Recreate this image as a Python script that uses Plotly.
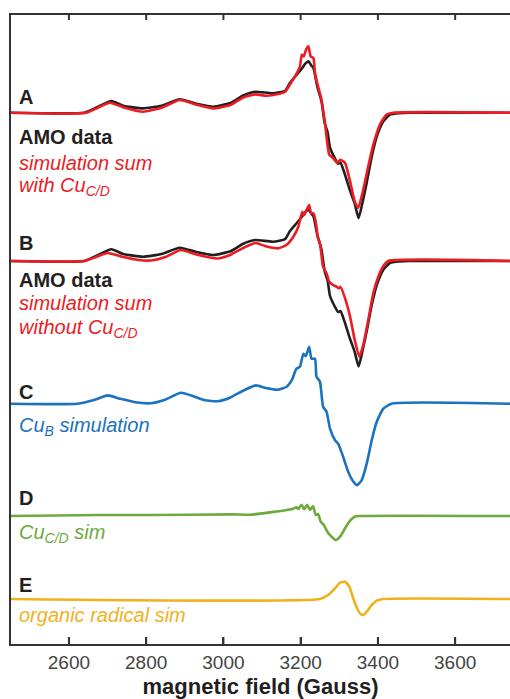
import plotly.graph_objects as go

# ---------------- data (field in Gauss, signal in arbitrary units) ----------------
amo_field = [2450, 2640, 2670, 2710, 2740, 2792, 2840, 2887, 2930, 2974, 3020, 3050, 3082,
             3128, 3160, 3172, 3190, 3204, 3212, 3220, 3228, 3233, 3243, 3254, 3262, 3270,
             3276, 3289, 3297, 3303, 3314, 3327, 3340, 3350, 3360, 3371, 3384, 3397, 3414,
             3431, 3457, 3480, 3742]
amo_signal = [0, 0, 5, 11.7, 7, 4.3, 7, 13.3, 9, 6, 10, 17, 21,
              19.3, 22, 29.7, 38, 44.7, 49, 51.3, 47, 44.7, 26.3, 11.3, -10, -20,
              -35, -46, -51, -50, -61, -77, -91, -105.5, -90, -70, -44, -24, -8.7,
              -2, -0.5, 0, 0]

simA_field = [2450, 2645, 2675, 2706, 2740, 2792, 2840, 2887, 2930, 2974, 3020, 3050, 3082,
              3110, 3129, 3160, 3172, 3188, 3198, 3203, 3208, 3214, 3220, 3226, 3233, 3237,
              3245, 3254, 3263, 3274, 3284, 3295, 3302, 3315, 3328, 3340, 3349, 3360, 3375,
              3388, 3405, 3422, 3440, 3742]
simA_signal = [0, 0, 5, 10, 5.5, 1, 5, 12.7, 8, 4.3, 8, 15, 18.3,
               17, 17.7, 21, 28, 38, 46, 58, 56.3, 63, 66.3, 56.3, 54.7, 39.7,
               26.3, 13, -10.3, -42, -45.3, -50.3, -47, -50.3, -68.7, -88.7, -95.3, -80.3, -53.7,
               -32, -12, -2, 0, 0]

simB_field = [2450, 2640, 2670, 2700, 2735, 2780, 2812, 2850, 2890, 2930, 2985, 3017, 3056,
              3084, 3107, 3120, 3142, 3163, 3181, 3194, 3204, 3209, 3215, 3222, 3227, 3233,
              3239, 3245, 3250, 3258, 3267, 3274, 3284, 3293, 3299, 3303, 3315, 3328, 3340,
              3352, 3362, 3375, 3388, 3401, 3414, 3427, 3742]
simB_signal = [0, 0, 4, 8, 4.5, 1, 0.5, 4, 11, 6.5, 2.5, 6, 14,
               18, 15, 13.7, 12.7, 16, 24.3, 34.3, 49.3, 46, 51, 56, 47.7, 47.7,
               39.3, 22.7, 17.7, -5.7, -12.3, -20.7, -24, -25.7, -27.3, -25.7, -37.3, -55.7, -79,
               -95.7, -84, -59, -32.3, -15.7, -5, 0, 0]

cuB_field = [2450, 2622, 2667, 2700, 2732, 2771, 2812, 2849, 2890, 2926, 2952, 2985, 3017,
             3056, 3084, 3107, 3140, 3164, 3177, 3189, 3198, 3207, 3213, 3222, 3228, 3237,
             3241, 3250, 3258, 3267, 3276, 3289, 3297, 3310, 3323, 3334, 3346, 3358, 3371,
             3384, 3397, 3414, 3435, 3742]
cuB_signal = [0, 0, 4, 8.3, 5, 1.5, 0.5, 4, 11, 7, 3.5, 2.5, 6,
              14, 18.3, 16, 14, 17, 23.5, 35, 37, 50, 47.5, 57, 45, 45,
              27, 22, -3, -8, -25, -36.5, -40, -53, -68, -76.5, -81.5, -76.5, -60,
              -36.5, -18, -5, 0, 0]

cuCD_field = [2450, 2680, 2810, 3025, 3069, 3120, 3172, 3181, 3189, 3194, 3202, 3209, 3217,
              3224, 3232, 3239, 3245, 3252, 3260, 3269, 3280, 3291, 3302, 3315, 3328, 3340,
              3353, 3742]
cuCD_signal = [0, 1, 1, 1.6, 1.3, 3.6, 6.5, 7.3, 8.7, 7, 11.3, 6.7, 11.3,
               6, 10, 1, 2, -5.7, -9, -15.7, -20.7, -24, -20.7, -12.3, -4.7, -0.7,
               0, 0]

rad_field = [2450, 3250, 3271, 3289, 3302, 3315, 3326, 3336, 3346, 3355, 3362, 3371, 3384,
             3397, 3414, 3742]
rad_signal = [0, 0, 4, 10.7, 16.3, 17.3, 12.3, 0.7, -9.3, -15, -16, -12.7, -6,
              -1.7, 0, 0]

tick_vals = [2600, 2800, 3000, 3200, 3400, 3600]
tick_text = ["2600", "2800", "3000", "3200", "3400", "3600"]

# vertical offsets of the stacked spectra
off_A, off_B, off_C, off_D, off_E = 531.3, 383, 240.3, 128, 45

BLACK = "#231F20"
RED = "#ED1C24"
BLUE = "#1B72BE"
GREEN = "#6DAA3C"
YELLOW = "#EFB21E"
AXIS = "#333333"
FONT = "Liberation Sans, Arial, sans-serif"
X_RANGE = [2450, 3742]
Y_RANGE = [0, 631]
TICK_LEN = 7

fig = go.Figure()

def add(xs, ys, off, color, width=2.6):
    fig.add_trace(go.Scatter(
        x=xs, y=[v + off for v in ys], mode="lines",
        line=dict(color=color, width=width, shape="spline", smoothing=0.5),
        showlegend=False, hoverinfo="skip"))

add(amo_field, amo_signal, off_A, BLACK)
add(simA_field, simA_signal, off_A, RED)
add(amo_field, amo_signal, off_B, BLACK)
add(simB_field, simB_signal, off_B, RED)
add(cuB_field, cuB_signal, off_C, BLUE)
add(cuCD_field, cuCD_signal, off_D, GREEN)
add(rad_field, rad_signal, off_E, YELLOW)

# frame: top edge and inside tick marks on bottom and top edges (built from tick_vals)
tx, ty = [], []
for v in tick_vals:
    tx += [v, v, None, v, v, None]
    ty += [Y_RANGE[0], Y_RANGE[0] + TICK_LEN, None, Y_RANGE[1], Y_RANGE[1] - TICK_LEN, None]
fig.add_trace(go.Scatter(x=tx, y=ty, mode="lines", line=dict(color=AXIS, width=2),
                         showlegend=False, hoverinfo="skip"))
fig.add_trace(go.Scatter(x=X_RANGE, y=[Y_RANGE[1] - 0.5, Y_RANGE[1] - 0.5], mode="lines",
                         line=dict(color=AXIS, width=3), showlegend=False, hoverinfo="skip"))

labels = [
    ("<b>A</b>", 547.3, BLACK),
    ("<b>AMO data</b>", 507.3, BLACK),
    ("<i>simulation sum</i>", 480.7, RED),
    ("<i>with Cu<sub>C/D</sub></i>", 457.3, RED),
    ("<b>B</b>", 401, BLACK),
    ("<b>AMO data</b>", 364, BLACK),
    ("<i>simulation sum</i>", 340.7, RED),
    ("<i>without Cu<sub>C/D</sub></i>", 315.7, RED),
    ("<b>C</b>", 252.5, BLACK),
    ("<i>Cu<sub>B</sub> simulation</i>", 218, BLUE),
    ("<b>D</b>", 146, BLACK),
    ("<i>Cu<sub>C/D</sub> sim</i>", 110.7, GREEN),
    ("<b>E</b>", 59, BLACK),
    ("<i>organic radical sim</i>", 29, YELLOW),
]
for text, y, col in labels:
    fig.add_annotation(x=0.012, xref="paper", y=y, yref="y", text=text,
                       showarrow=False, xanchor="left", yanchor="middle",
                       font=dict(family=FONT, size=20, color=col))

fig.update_layout(
    width=510, height=699,
    margin=dict(l=11, r=0, t=13, b=55, autoexpand=False),
    paper_bgcolor="white", plot_bgcolor="white",
    font=dict(family=FONT),
    xaxis=dict(range=X_RANGE, tickmode="array", tickvals=tick_vals, ticktext=tick_text,
               ticks="inside", ticklen=TICK_LEN, tickwidth=2, tickcolor=AXIS,
               showline=True, linecolor=AXIS, linewidth=2, mirror=False,
               showgrid=False, zeroline=False, automargin=False,
               tickfont=dict(family=FONT, size=19, color="#444"),
               title=dict(text="<b>magnetic field (Gauss)</b>", standoff=8,
                          font=dict(family=FONT, size=22, color=BLACK))),
    yaxis=dict(range=Y_RANGE, showticklabels=False, ticks="",
               showline=True, linecolor=AXIS, linewidth=2, mirror=False,
               showgrid=False, zeroline=False, automargin=False),
)

fig.write_html("out.html", config={"displayModeBar": False},
               post_script="document.body.style.margin='0px';document.body.style.overflow='hidden';")
